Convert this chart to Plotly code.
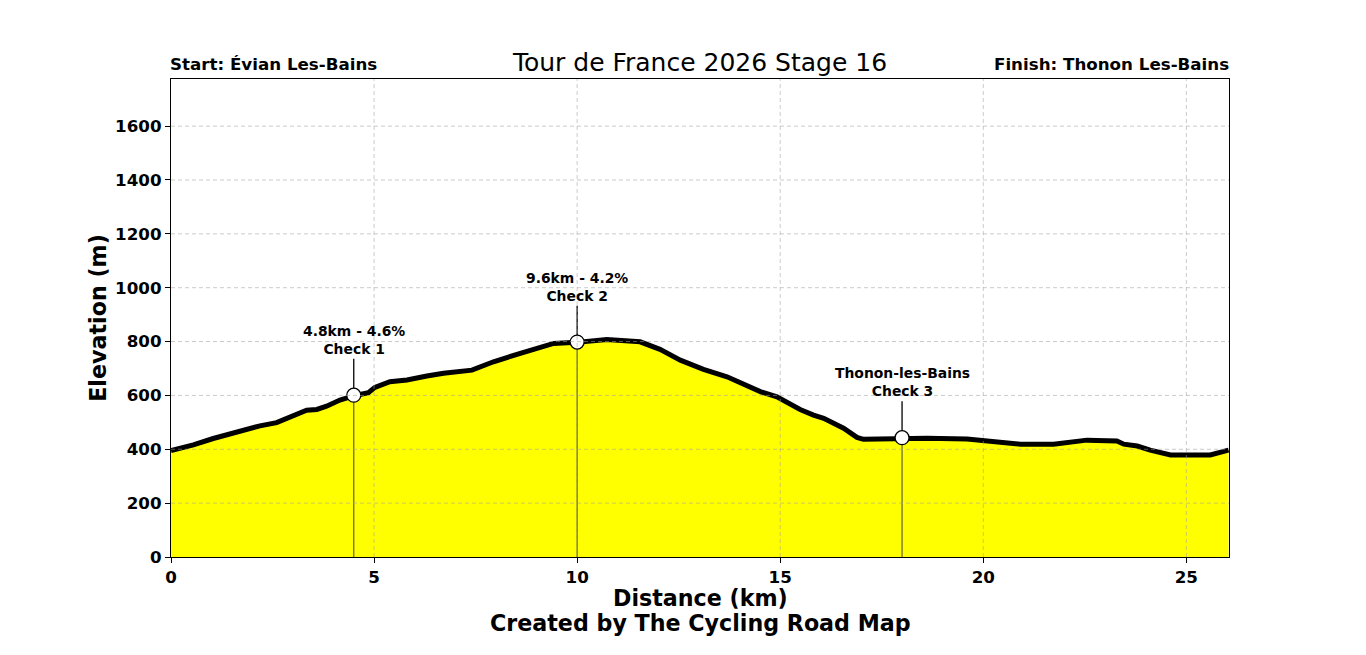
import plotly.graph_objects as go

# Profile data (distance km, elevation m)
dist_km = [0.0, 0.55, 1.04, 1.62, 2.19, 2.60, 3.01, 3.34, 3.59, 3.83, 4.16, 4.51, 4.86, 5.02,
           5.39, 5.81, 6.30, 6.71, 7.41, 7.94, 8.60, 9.09, 9.42, 9.99, 10.73, 11.55, 12.04,
           12.54, 13.11, 13.69, 14.02, 14.51, 14.92, 15.49, 15.82, 16.07, 16.56, 16.89, 17.05,
           17.63, 18.01, 18.61, 19.60, 20.01, 20.91, 21.73, 22.55, 23.29, 23.46, 23.79, 24.11,
           24.61, 25.59, 26.04]
elev_m = [395, 416, 440, 465, 487, 499, 523, 545, 548, 560, 583, 599, 610, 630,
          651, 657, 672, 682, 694, 725, 756, 781, 793, 797, 808, 799, 771,
          731, 697, 669, 645, 614, 595, 548, 527, 515, 478, 444, 437,
          438, 443, 441, 438, 432, 419, 419, 434, 431, 419, 412, 397,
          379, 379, 397]

check_km = [4.5, 10.0, 18.0]
check_elev = [601, 798, 443]
check_labels = ["4.8km - 4.6%<br>Check 1", "9.6km - 4.2%<br>Check 2", "Thonon-les-Bains<br>Check 3"]
label_offset = [135, 135, 135]

x_ticks = [0, 5, 10, 15, 20, 25]
y_ticks = [0, 200, 400, 600, 800, 1000, 1200, 1400, 1600]
x_max = 26.05
y_max = 1775

FONT = "DejaVu Sans"
GRID = "rgba(160,160,160,0.55)"

fig = go.Figure()

fig.add_trace(go.Scatter(x=dist_km, y=elev_m, mode="lines", fill="tozeroy",
                         fillcolor="#FFFF00", line=dict(color="black", width=5),
                         hoverinfo="skip", showlegend=False))

for cx, ce, lab, off in zip(check_km, check_elev, check_labels, label_offset):
    fig.add_trace(go.Scatter(x=[cx, cx], y=[0, ce], mode="lines",
                             line=dict(color="rgba(60,60,60,0.8)", width=1.2),
                             showlegend=False, hoverinfo="skip"))
    fig.add_trace(go.Scatter(x=[cx, cx], y=[ce, ce + off], mode="lines",
                             line=dict(color="black", width=1.3),
                             showlegend=False, hoverinfo="skip"))
    fig.add_annotation(x=cx, y=ce + off, text="<b>" + lab + "</b>", showarrow=False,
                       yanchor="bottom", xanchor="center", yshift=0,
                       font=dict(family=FONT, size=13.9, color="black"))

fig.add_trace(go.Scatter(x=check_km, y=check_elev, mode="markers",
                         marker=dict(size=14, color="white", line=dict(color="black", width=1.3)),
                         showlegend=False, hoverinfo="skip"))

# grid above fill
shapes = []
for t in x_ticks[1:]:
    shapes.append(dict(type="line", xref="x", yref="paper", x0=t, x1=t, y0=0, y1=1,
                       line=dict(color=GRID, width=1, dash="4px,3px"), layer="above"))
for t in y_ticks[1:]:
    shapes.append(dict(type="line", xref="paper", yref="y", x0=0, x1=1, y0=t, y1=t,
                       line=dict(color=GRID, width=1, dash="4px,3px"), layer="above"))
fig.update_layout(shapes=shapes)

fig.update_layout(
    width=1366, height=655,
    margin=dict(l=171, r=137, t=79, b=98),
    paper_bgcolor="white", plot_bgcolor="white",
    font=dict(family=FONT, color="black"),
    title=dict(text="Tour de France 2026 Stage 16", x=0.5, xref="paper", xanchor="center",
               y=1 - 62 / 655, yanchor="middle", font=dict(family=FONT, size=25, color="black")),
    xaxis=dict(range=[0, x_max], tickvals=x_ticks, ticktext=[str(t) for t in x_ticks],
               showgrid=False, zeroline=False, showline=True, linecolor="black", linewidth=1.3,
               mirror=True, ticks="outside", ticklen=5, tickwidth=1.3, tickcolor="black",
               tickfont=dict(family=FONT, size=16.7, color="black", weight="bold")),
    yaxis=dict(range=[0, y_max], tickvals=y_ticks, ticktext=[str(t) for t in y_ticks],
               showgrid=False, zeroline=False, showline=True, linecolor="black", linewidth=1.3,
               mirror=True, ticks="outside", ticklen=5, tickwidth=1.3, tickcolor="black",
               tickfont=dict(family=FONT, size=16.7, color="black", weight="bold"),
               title=dict(text="<b>Elevation (m)</b>", font=dict(family=FONT, size=22.2, color="black"),
                          standoff=2)),
)

# x axis title and credit line as separate texts (tighter line spacing)
plot_h = 655 - 79 - 98
fig.add_annotation(x=0.5, y=(557 - 598) / plot_h, xref="paper", yref="paper",
                   text="<b>Distance (km)</b>", showarrow=False, xanchor="center", yanchor="middle",
                   font=dict(family=FONT, size=22.2, color="black"))
fig.add_annotation(x=0.5, y=(557 - 623) / plot_h, xref="paper", yref="paper",
                   text="<b>Created by The Cycling Road Map</b>", showarrow=False,
                   xanchor="center", yanchor="middle",
                   font=dict(family=FONT, size=22.2, color="black"))

fig.add_annotation(x=0, y=1, xref="paper", yref="paper", text="<b>Start: Évian Les-Bains</b>",
                   showarrow=False, xanchor="left", yanchor="bottom", yshift=3, xshift=-3,
                   font=dict(family=FONT, size=16.7, color="black"))
fig.add_annotation(x=1, y=1, xref="paper", yref="paper", text="<b>Finish: Thonon Les-Bains</b>",
                   showarrow=False, xanchor="right", yanchor="bottom", yshift=3, xshift=2,
                   font=dict(family=FONT, size=16.7, color="black"))

fig.write_html("out.html")
